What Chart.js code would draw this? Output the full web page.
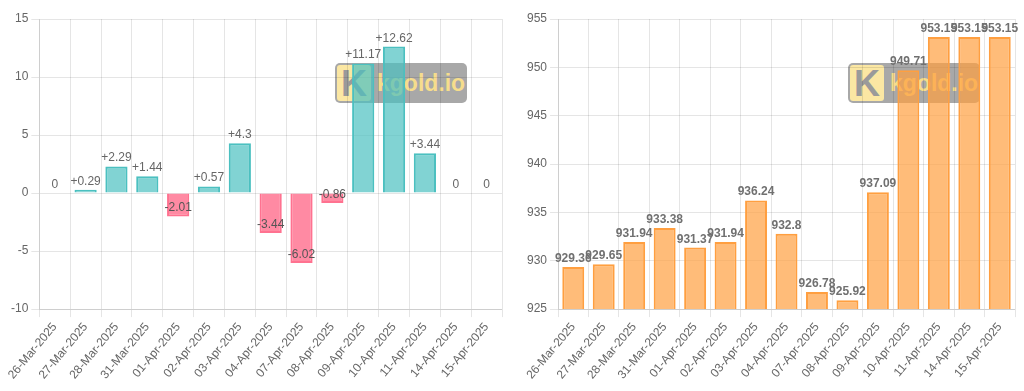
<!DOCTYPE html>
<html>
<head>
<meta charset="utf-8">
<script src="https://cdn.jsdelivr.net/npm/chart.js@4"></script>
<style>
    html, body { margin: 0; padding: 0; background: #fff; }
    body { width: 1024px; height: 391px; position: relative; overflow: hidden; }
    .box { position: absolute; top: 0; width: 512px; height: 391px; }
    .box canvas { position: relative; z-index: 2; }
    .mark {
        position: absolute; z-index: 1; top: 63px; width: 132px; height: 40px;
        background: rgba(110, 110, 110, 0.6); border-radius: 5px;
        font-family: 'Liberation Sans', Arial, sans-serif; font-weight: bold;
    }
    .mark .logo {
        position: absolute; left: 2px; top: 2px; width: 34px; height: 36px;
        background: #fbe7a3; border-radius: 3px; color: #9a9a9a;
        font-size: 36px; line-height: 38px; text-align: center;
    }
    .mark .txt {
        position: absolute; left: 42px; top: 7px; color: #f6dd8c;
        font-size: 23px; line-height: 26px;
    }
</style>
</head>
<body>
<div class="box" style="left:0">
    <div class="mark" style="left:335px"><div class="logo">K</div><div class="txt">kgold.io</div></div>
    <canvas id="changeChart" width="512" height="391"></canvas>
</div>
<div class="box" style="left:512px">
    <div class="mark" style="left:336px"><div class="logo">K</div><div class="txt">kgold.io</div></div>
    <canvas id="priceChart" width="512" height="391"></canvas>
</div>
<script>
const dates = ['26-Mar-2025', '27-Mar-2025', '28-Mar-2025', '31-Mar-2025', '01-Apr-2025', '02-Apr-2025',
    '03-Apr-2025', '04-Apr-2025', '07-Apr-2025', '08-Apr-2025', '09-Apr-2025', '10-Apr-2025',
    '11-Apr-2025', '14-Apr-2025', '15-Apr-2025'];
const changes = [0, 0.29, 2.29, 1.44, -2.01, 0.57, 4.3, -3.44, -6.02, -0.86, 11.17, 12.62, 3.44, 0, 0];
const prices = [929.36, 929.65, 931.94, 933.38, 931.37, 931.94, 936.24, 932.8, 926.78, 925.92,
    937.09, 949.71, 953.15, 953.15, 953.15];

const fontFamily = "'Liberation Sans', Arial, sans-serif";
Chart.defaults.font.family = fontFamily;
Chart.defaults.font.size = 12;
Chart.defaults.color = '#666';
Chart.defaults.animation = false;

// draws the value above the end of every bar
const valueLabels = {
    id: 'valueLabels',
    afterDatasetsDraw(chart, args, opts) {
        const ctx = chart.ctx;
        const ds = chart.data.datasets[0];
        const meta = chart.getDatasetMeta(0);
        ctx.save();
        ctx.font = (opts.bold ? 'bold ' : '') + '12px ' + fontFamily;
        ctx.textAlign = 'center';
        ctx.textBaseline = 'alphabetic';
        meta.data.forEach((bar, i) => {
            const v = ds.data[i];
            let txt = String(v);
            if (opts.signed && v > 0) txt = '+' + v;
            ctx.fillStyle = v < 0 ? '#555' : (opts.color || '#666');
            ctx.fillText(txt, bar.x, bar.y - 5);
        });
        ctx.restore();
    }
};

function xAxis() {
    return {
        grid: { color: 'rgba(0,0,0,0.1)' },
        ticks: { minRotation: 50, maxRotation: 50, autoSkip: false, font: { size: 12 } },
    };
}

new Chart(document.getElementById('changeChart'), {
    type: 'bar',
    data: {
        labels: dates,
        datasets: [{
            data: changes,
            backgroundColor: changes.map((v) => v < 0 ? 'rgba(255,99,132,0.75)' : 'rgba(75,192,192,0.7)'),
            borderColor: changes.map((v) => v < 0 ? 'rgba(255,99,132,0.9)' : 'rgba(75,192,192,1)'),
            borderWidth: 2,
        }],
    },
    options: {
        responsive: false,
        layout: { padding: { left: 8, right: 10, top: 19, bottom: 6 } },
        plugins: {
            legend: { display: false },
            tooltip: { enabled: false },
            valueLabels: { signed: true, color: '#666' },
        },
        scales: {
            x: xAxis(),
            y: {
                min: -10, max: 15,
                grid: { color: 'rgba(0,0,0,0.1)' },
                ticks: { stepSize: 5 },
            },
        },
    },
    plugins: [valueLabels],
});

new Chart(document.getElementById('priceChart'), {
    type: 'bar',
    data: {
        labels: dates,
        datasets: [{
            data: prices,
            backgroundColor: 'rgba(255,159,64,0.7)',
            borderColor: 'rgba(255,159,64,1)',
            borderWidth: 2,
        }],
    },
    options: {
        responsive: false,
        layout: { padding: { left: 12, right: 9, top: 19, bottom: 6 } },
        plugins: {
            legend: { display: false },
            tooltip: { enabled: false },
            valueLabels: { bold: true, color: '#707070' },
        },
        scales: {
            x: xAxis(),
            y: {
                min: 925, max: 955,
                grid: { color: 'rgba(0,0,0,0.1)' },
                ticks: { stepSize: 5 },
            },
        },
    },
    plugins: [valueLabels],
});
</script>
</body>
</html>
